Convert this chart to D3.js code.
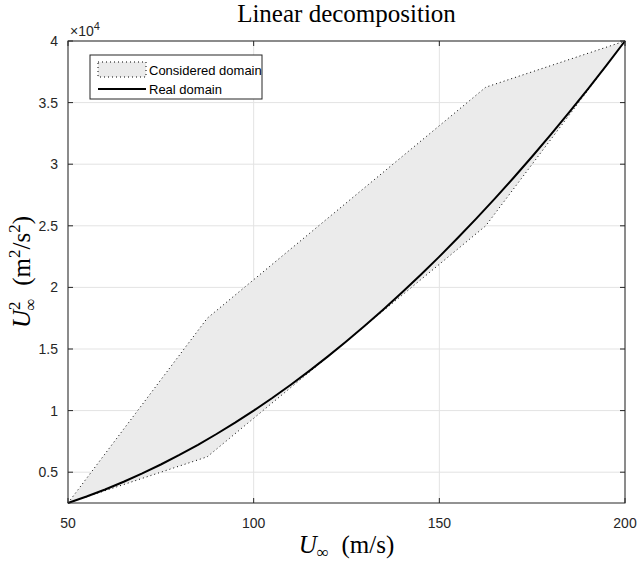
<!DOCTYPE html>
<html>
<head>
<meta charset="utf-8">
<script src="https://cdn.jsdelivr.net/npm/d3@7"></script>
<style>
  body { margin: 0; background: #fff; }
  svg { display: block; }
</style>
</head>
<body>
<svg id="chart" width="640" height="564"></svg>
<script>
// Real domain: U and U^2
const realU  = [50, 55, 60, 65, 70, 75, 80, 85, 90, 95, 100, 105, 110, 115, 120, 125,
                130, 135, 140, 145, 150, 155, 160, 165, 170, 175, 180, 185, 190, 195, 200];
const realU2 = [2500, 3025, 3600, 4225, 4900, 5625, 6400, 7225, 8100, 9025, 10000, 11025,
                12100, 13225, 14400, 15625, 16900, 18225, 19600, 21025, 22500, 24025, 25600,
                27225, 28900, 30625, 32400, 34225, 36100, 38025, 40000];

// Considered domain polygon (upper then lower boundary)
const upperU  = [50, 87.5, 162.5, 200];
const upperU2 = [2500, 17500, 36250, 40000];
const lowerU  = [50, 87.5, 162.5, 200];
const lowerU2 = [2500, 6250, 25000, 40000];

const xTicks = [50, 100, 150, 200];
const yTicks = [5000, 10000, 15000, 20000, 25000, 30000, 35000, 40000];
const yTickLabels = ["0.5", "1", "1.5", "2", "2.5", "3", "3.5", "4"];

const width = 640, height = 564;
const margin = { top: 41, right: 15, bottom: 61, left: 68 };
const innerW = width - margin.left - margin.right;
const innerH = height - margin.top - margin.bottom;
const axisColor = "#262626";

const svg = d3.select("#chart");
const g = svg.append("g").attr("transform", `translate(${margin.left},${margin.top})`);

const x = d3.scaleLinear().domain([50, 200]).range([0, innerW]);
const y = d3.scaleLinear().domain([2500, 40000]).range([innerH, 0]);

// grid
g.append("g").selectAll("line").data(xTicks).enter().append("line")
  .attr("x1", d => x(d)).attr("x2", d => x(d))
  .attr("y1", 0).attr("y2", innerH)
  .attr("stroke", "#e3e3e3").attr("stroke-width", 1);
g.append("g").selectAll("line").data(yTicks).enter().append("line")
  .attr("x1", 0).attr("x2", innerW)
  .attr("y1", d => y(d)).attr("y2", d => y(d))
  .attr("stroke", "#e3e3e3").attr("stroke-width", 1);

// considered domain
const polyPts = upperU.map((u, i) => [u, upperU2[i]])
  .concat(lowerU.map((u, i) => [u, lowerU2[i]]).reverse());
const line = d3.line().x(d => x(d[0])).y(d => y(d[1]));
g.append("path")
  .attr("d", line(polyPts) + "Z")
  .attr("fill", "#ebebeb")
  .attr("stroke", "#000")
  .attr("stroke-width", 1)
  .attr("stroke-dasharray", "1,3");

// real domain
g.append("path")
  .attr("d", line(realU.map((u, i) => [u, realU2[i]])))
  .attr("fill", "none")
  .attr("stroke", "#000")
  .attr("stroke-width", 2);

// axes box and ticks
const tickLen = 5;
g.append("rect")
  .attr("x", 0).attr("y", 0).attr("width", innerW).attr("height", innerH)
  .attr("fill", "none").attr("stroke", axisColor).attr("stroke-width", 1);

const ticks = g.append("g").attr("stroke", axisColor).attr("stroke-width", 1);
xTicks.forEach(t => {
  ticks.append("line").attr("x1", x(t)).attr("x2", x(t)).attr("y1", innerH).attr("y2", innerH - tickLen);
  ticks.append("line").attr("x1", x(t)).attr("x2", x(t)).attr("y1", 0).attr("y2", tickLen);
});
yTicks.forEach(t => {
  ticks.append("line").attr("x1", 0).attr("x2", tickLen).attr("y1", y(t)).attr("y2", y(t));
  ticks.append("line").attr("x1", innerW).attr("x2", innerW - tickLen).attr("y1", y(t)).attr("y2", y(t));
});

const tickFont = "'Liberation Sans', Arial, sans-serif";
g.append("g").selectAll("text").data(xTicks).enter().append("text")
  .attr("x", d => x(d)).attr("y", innerH + 25)
  .attr("text-anchor", "middle")
  .attr("font-family", tickFont).attr("font-size", 14).attr("fill", axisColor)
  .text(d => d);
g.append("g").selectAll("text").data(yTicks).enter().append("text")
  .attr("x", -10).attr("y", d => y(d)).attr("dy", "0.35em")
  .attr("text-anchor", "end")
  .attr("font-family", tickFont).attr("font-size", 14).attr("fill", axisColor)
  .text((d, i) => yTickLabels[i]);

// exponent label
const expo = g.append("text").attr("x", 2).attr("y", -5)
  .attr("font-family", tickFont).attr("font-size", 14).attr("fill", axisColor);
expo.append("tspan").text("\u00d710");
expo.append("tspan").attr("dy", -6).attr("font-size", 11).text("4");

// title and axis labels
const serif = "'Liberation Serif', 'DejaVu Serif', serif";
svg.append("text")
  .attr("x", margin.left + innerW / 2).attr("y", 22)
  .attr("text-anchor", "middle")
  .attr("font-family", serif).attr("font-size", 25).attr("fill", "#000")
  .text("Linear decomposition");

const xl = svg.append("text")
  .attr("x", margin.left + innerW / 2).attr("y", 553)
  .attr("text-anchor", "middle")
  .attr("font-family", serif).attr("font-size", 25).attr("fill", "#000");
xl.append("tspan").attr("font-style", "italic").text("U");
xl.append("tspan").attr("dy", 5).attr("font-size", 17).text("\u221e");
xl.append("tspan").attr("dy", -5).text("\u2002(m/s)");

const yl = svg.append("text")
  .attr("transform", `translate(30,${margin.top + innerH / 2}) rotate(-90)`)
  .attr("text-anchor", "middle")
  .attr("font-family", serif).attr("font-size", 25).attr("fill", "#000");
yl.append("tspan").attr("font-style", "italic").text("U");
yl.append("tspan").attr("dy", -10).attr("font-size", 17).text("2");
yl.append("tspan").attr("dx", -9).attr("dy", 16).attr("font-size", 17).text("\u221e");
yl.append("tspan").attr("dy", -6).text("\u2002(m");
yl.append("tspan").attr("dy", -10).attr("font-size", 17).text("2");
yl.append("tspan").attr("dy", 10).text("/s");
yl.append("tspan").attr("dy", -10).attr("font-size", 17).text("2");
yl.append("tspan").attr("dy", 10).text(")");

// legend
const lg = svg.append("g").attr("transform", "translate(90,55)");
lg.append("rect").attr("width", 172).attr("height", 44)
  .attr("fill", "#fff").attr("stroke", axisColor).attr("stroke-width", 1);
lg.append("rect").attr("x", 8).attr("y", 7).attr("width", 48).attr("height", 15)
  .attr("fill", "#ebebeb").attr("stroke", "#000").attr("stroke-width", 1)
  .attr("stroke-dasharray", "1,3");
lg.append("line").attr("x1", 8).attr("x2", 56).attr("y1", 34).attr("y2", 34)
  .attr("stroke", "#000").attr("stroke-width", 2);
lg.append("text").attr("x", 59).attr("y", 15).attr("dy", "0.35em")
  .attr("font-family", tickFont).attr("font-size", 13).attr("fill", "#000")
  .text("Considered domain");
lg.append("text").attr("x", 59).attr("y", 34).attr("dy", "0.35em")
  .attr("font-family", tickFont).attr("font-size", 13).attr("fill", "#000")
  .text("Real domain");
</script>
</body>
</html>
